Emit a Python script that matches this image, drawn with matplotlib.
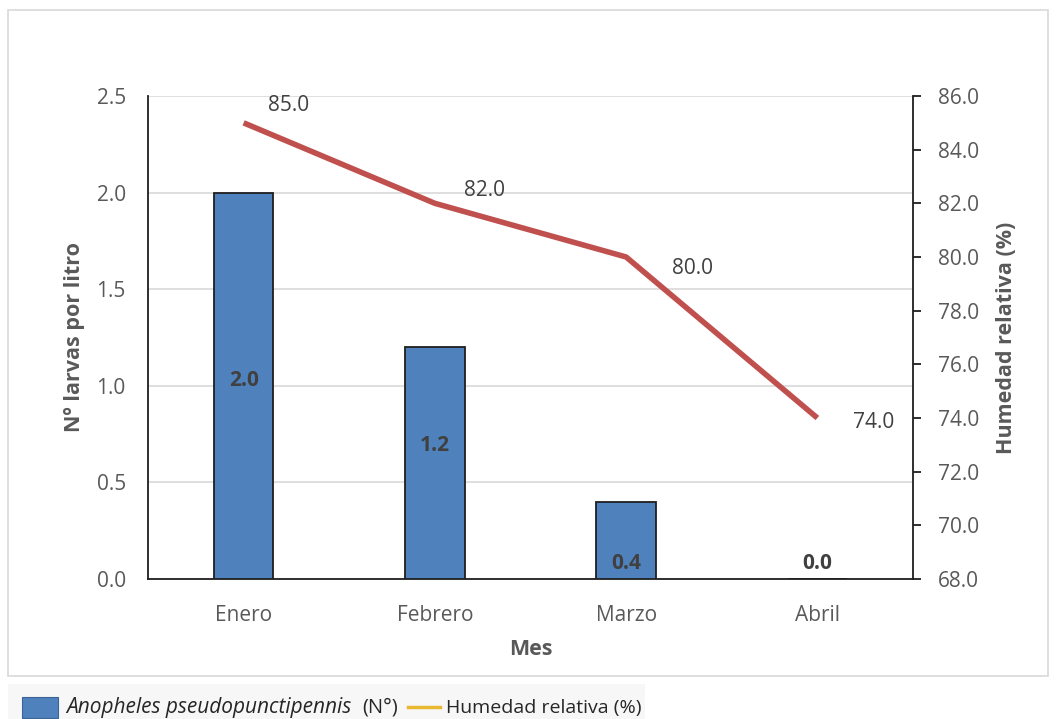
import matplotlib
matplotlib.use("Agg")
import matplotlib.pyplot as plt
from matplotlib.patches import Rectangle
from matplotlib.lines import Line2D

plt.rcParams['font.family'] = ['Open Sans', 'DejaVu Sans']

meses = ["Enero", "Febrero", "Marzo", "Abril"]
larvas = [2.0, 1.2, 0.4, 0.0]
humedad = [85.0, 82.0, 80.0, 74.0]
larvas_ticks = [0.0, 0.5, 1.0, 1.5, 2.0, 2.5]
humedad_ticks = [68.0, 70.0, 72.0, 74.0, 76.0, 78.0, 80.0, 82.0, 84.0, 86.0]

W, H = 1056, 719
fig = plt.figure(figsize=(W / 100, H / 100), dpi=100)
fig.patch.set_facecolor("white")

def fx(px):
    return px / W

def fy(py):
    return 1 - py / H

# chart area frame
fig.add_artist(Rectangle((fx(8), fy(676)), fx(1048) - fx(8), fy(10) - fy(676),
                         transform=fig.transFigure, fill=False,
                         edgecolor="#D9D9D9", linewidth=1.2))

ax = fig.add_axes([fx(148), fy(579), fx(913) - fx(148), fy(96) - fy(579)])
ax2 = ax.twinx()

text_gray = "#595959"
x = list(range(len(meses)))

ax.bar(x, larvas, width=0.31, color="#4F81BD", edgecolor="#1F1F1F",
       linewidth=1.3, zorder=3)
ax.set_xlim(-0.5, len(meses) - 0.5)
ax.set_ylim(0, 2.5)
ax.set_yticks(larvas_ticks)
ax.set_yticklabels([f"{v:.1f}" for v in larvas_ticks])
ax.set_xticks(x)
ax.set_xticklabels(meses)
ax.grid(axis="y", color="#D9D9D9", linewidth=1.2, zorder=0)
ax.set_axisbelow(True)

for sp in ["top", "right"]:
    ax.spines[sp].set_visible(False)
ax.spines["left"].set_color("#1F1F1F")
ax.spines["left"].set_linewidth(1.3)
ax.spines["bottom"].set_color("#1F1F1F")
ax.spines["bottom"].set_linewidth(1.3)
ax.tick_params(axis="y", length=0, pad=16, labelsize=15, labelcolor=text_gray)
ax.tick_params(axis="x", length=0, pad=19, labelsize=15, labelcolor=text_gray)

ax.set_ylabel("Nº larvas por litro", fontsize=15.5, fontweight="bold",
              color=text_gray, labelpad=8)
ax.set_xlabel("Mes", fontsize=15.5, fontweight="bold", color=text_gray,
              labelpad=9)

# bar value labels
label_y = [1.03, 0.69, 0.08, 0.08]
for xi, v, ly in zip(x, larvas, label_y):
    ax.text(xi, ly, f"{v:.1f}", ha="center", va="center", fontsize=15,
            fontweight="bold", color="#404040", zorder=5)

ax2.plot(x, humedad, color="#C0504D", linewidth=4, solid_capstyle="butt", zorder=4)
ax2.set_ylim(68, 86)
ax2.set_yticks(humedad_ticks)
ax2.set_yticklabels([f"{v:.1f}" for v in humedad_ticks])
for sp in ["top", "left", "bottom"]:
    ax2.spines[sp].set_visible(False)
ax2.spines["right"].set_color("#1F1F1F")
ax2.spines["right"].set_linewidth(1.3)
ax2.tick_params(axis="y", length=6, width=1.3, color="#1F1F1F", pad=12,
                labelsize=15, labelcolor=text_gray)
ax2.set_ylabel("Humedad relativa (%)", fontsize=15.5, fontweight="bold",
               color=text_gray, labelpad=12)

hum_offsets = [(45, 17), (50, 13), (66, -12), (56, -4)]
for xi, v, off in zip(x, humedad, hum_offsets):
    ax2.annotate(f"{v:.1f}", (xi, v), xytext=off, textcoords="offset pixels",
                 ha="center", va="center", fontsize=15, color="#404040")

# legend strip
fig.add_artist(Rectangle((fx(8), 0), fx(645) - fx(8), fy(684),
                         transform=fig.transFigure, facecolor="#F7F7F7",
                         edgecolor="none"))
fig.add_artist(Rectangle((fx(22), fy(718)), fx(58) - fx(22), fy(697) - fy(718),
                         transform=fig.transFigure, facecolor="#4F81BD",
                         edgecolor="#3A6494", linewidth=0.8))
fig.text(fx(66), fy(708), "Anopheles pseudopunctipennis", fontsize=15,
         style="italic", color="#262626", va="center", ha="left")
fig.text(fx(362), fy(708), "(N°)", fontsize=14.5, color="#262626",
         va="center", ha="left")
fig.add_artist(Line2D([fx(408), fx(440)], [fy(707), fy(707)],
                      transform=fig.transFigure, color="#E8B830", linewidth=2.5))
fig.text(fx(446), fy(708), "Humedad relativa (%)", fontsize=14,
         color="#262626", va="center", ha="left")

fig.savefig("out.png", dpi=100, facecolor="white")
